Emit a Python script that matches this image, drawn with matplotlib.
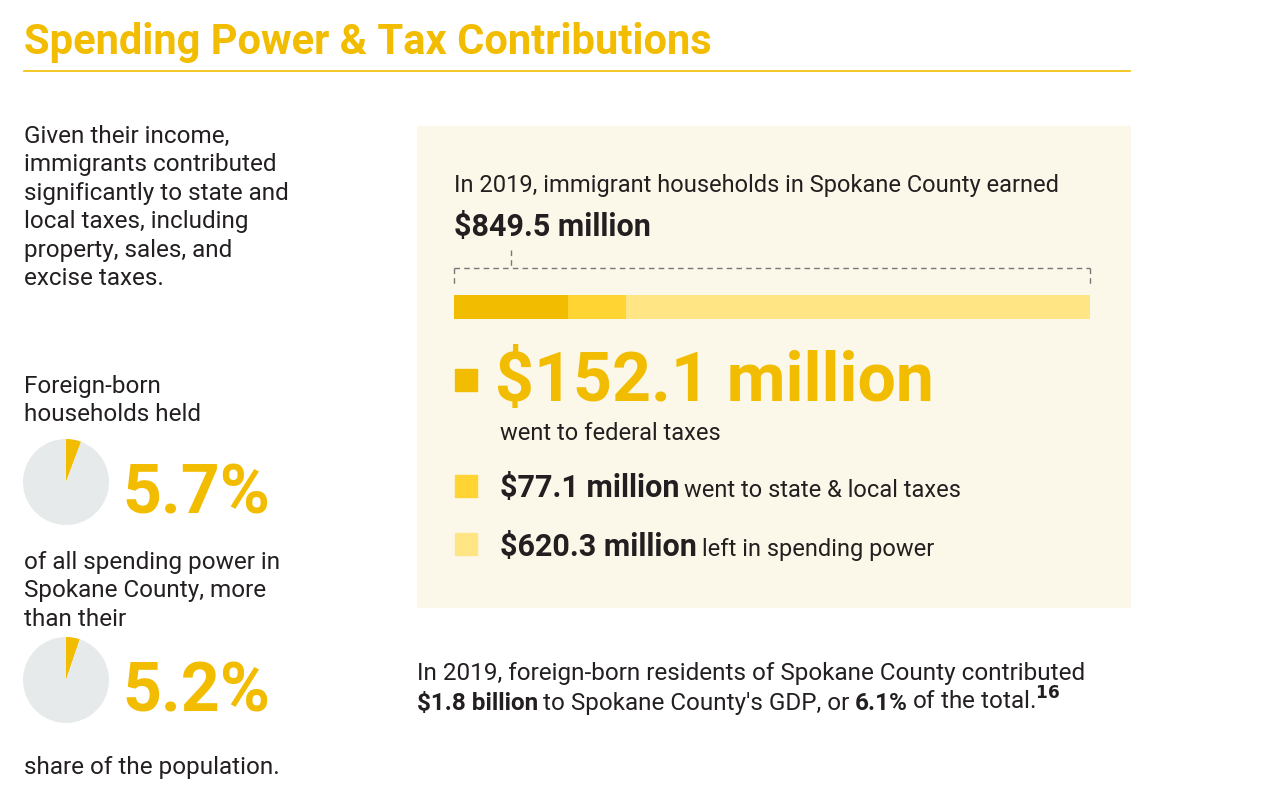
import matplotlib
matplotlib.use("Agg")
import matplotlib.pyplot as plt
from matplotlib.patches import Rectangle

# data
earned_total = 849.5
segment_labels = ["federal taxes", "state & local taxes", "spending power"]
segment_values = [152.1, 77.1, 620.3]
segment_colors = ["#F2BC00", "#FFD433", "#FFE584"]
pie_shares = [5.7, 5.2]
pie_labels = ["5.7%", "5.2%"]

YELLOW = "#F2BC00"
DARK = "#231F20"
FONT = "Roboto"
BODY = 17.5

plt.rcParams["font.family"] = FONT

fig = plt.figure(figsize=(12.8, 8), dpi=100)
ax = fig.add_axes([0, 0, 1, 1])
ax.set_xlim(0, 1280)
ax.set_ylim(800, 0)
ax.axis("off")
renderer = fig.canvas.get_renderer()


def run_text(x, y, parts):
    # draw text pieces one after another on a baseline
    for s, kw in parts:
        t = ax.text(x, y, s, va="baseline", color=kw.pop("color", DARK), **kw)
        bb = t.get_window_extent(renderer)
        x += bb.width + 5


# title
ax.text(24, 54, "Spending Power & Tax Contributions", color=YELLOW, fontsize=30,
        fontweight="bold", va="baseline")
ax.plot([24, 1130], [71, 71], color=YELLOW, lw=1.2)

# left column
ax.text(24, 125, "Given their income,\nimmigrants contributed\nsignificantly to state and\n"
        "local taxes, including\nproperty, sales, and\nexcise taxes.",
        fontsize=BODY, color=DARK, va="top", linespacing=1.3)
ax.text(24, 375, "Foreign-born\nhouseholds held", fontsize=BODY, color=DARK, va="top", linespacing=1.3)
ax.text(24, 551, "of all spending power in\nSpokane County, more\nthan their",
        fontsize=BODY, color=DARK, va="top", linespacing=1.3)
ax.text(24, 756, "share of the population.", fontsize=BODY, color=DARK, va="top")

pie_centers = [482, 680]
for share, label, cy in zip(pie_shares, pie_labels, pie_centers):
    pax = fig.add_axes([23 / 1280, 1 - (cy + 43) / 800, 86 / 1280, 86 / 800])
    pax.pie([share, 100 - share], colors=[YELLOW, "#E6EAEA"], startangle=90,
            counterclock=False, radius=1)
    pax.set_xlim(-1, 1)
    pax.set_ylim(-1, 1)
    pax.set_aspect("equal")
    ax.text(122, cy + 31, label, color=YELLOW, fontsize=49, fontweight="bold", va="baseline")

# panel
ax.add_patch(Rectangle((417, 126), 713, 481, color="#FCF8E9", zorder=0))
ax.text(454, 192, "In 2019, immigrant households in Spokane County earned",
        fontsize=17, color=DARK, va="baseline")
ax.text(454, 236, f"${earned_total} million", fontsize=22, fontweight="bold",
        color=DARK, va="baseline")

# stacked bar
x0, x1 = 454, 1090
scale = (x1 - x0) / earned_total
left = x0
for v, c in zip(segment_values, segment_colors):
    ax.barh(307, v * scale, left=left, height=24, color=c, zorder=2)
    left += v * scale

# dashed bracket
dash = dict(color="#777777", lw=1, ls=(0, (4, 3)))
ax.plot([x0, x1], [268, 268], **dash)
ax.plot([x0, x0], [268, 286], **dash)
ax.plot([x1, x1], [268, 286], **dash)
ax.plot([511, 511], [250, 268], **dash)

# legend rows
ax.add_patch(Rectangle((455, 369), 22, 22, color=segment_colors[0]))
ax.text(495, 401, f"${segment_values[0]} million", color=YELLOW, fontsize=49,
        fontweight="bold", va="baseline")
ax.text(500, 440, "went to federal taxes", fontsize=17, color=DARK, va="baseline")

ax.add_patch(Rectangle((455, 475), 22, 22, color=segment_colors[1]))
run_text(500, 497, [(f"${segment_values[1]} million", dict(fontsize=22, fontweight="bold")),
                    ("went to state & local taxes", dict(fontsize=17))])

ax.add_patch(Rectangle((455, 533), 22, 22, color=segment_colors[2]))
run_text(500, 556, [(f"${segment_values[2]} million", dict(fontsize=22, fontweight="bold")),
                    ("left in spending power", dict(fontsize=17))])

# footer
ax.text(417, 680, "In 2019, foreign-born residents of Spokane County contributed",
        fontsize=17.5, color=DARK, va="baseline")
run_text(417, 710, [("$1.8 billion", dict(fontsize=17.5, fontweight="bold")),
                    ("to Spokane County's GDP, or", dict(fontsize=17.5)),
                    ("6.1%", dict(fontsize=17.5, fontweight="bold")),
                    ("of the total.$^{\\mathbf{16}}$", dict(fontsize=17.5))])

fig.savefig("out.png", dpi=100)
